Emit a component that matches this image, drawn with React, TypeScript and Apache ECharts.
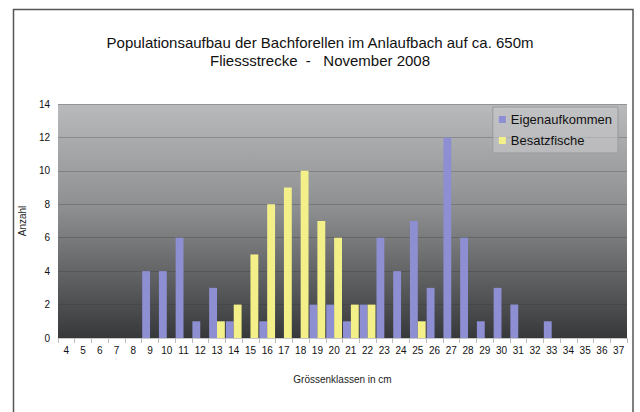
import React, { useEffect, useRef } from "react";
import * as echarts from "echarts";

const categories = ["4","5","6","7","8","9","10","11","12","13","14","15","16","17","18","19","20","21","22","23","24","25","26","27","28","29","30","31","32","33","34","35","36","37"];
const eigenaufkommen = [0,0,0,0,0,4,4,6,1,3,1,0,1,0,0,2,2,1,2,6,4,7,3,12,6,1,3,2,0,1,0,0,0,0];
const besatzfische = [0,0,0,0,0,0,0,0,0,1,2,5,8,9,10,7,6,2,2,0,0,1,0,0,0,0,0,0,0,0,0,0,0,0];
const titleLines = ["Populationsaufbau der Bachforellen im Anlaufbach auf ca. 650m", "Fliessstrecke  -   November 2008"];

export default function App() {
  const ref = useRef<HTMLDivElement>(null);
  useEffect(() => {
    if (!ref.current) return;
    const chart = echarts.init(ref.current, undefined, { renderer: "svg" });
    const font = "'Liberation Sans', Arial, sans-serif";
    chart.setOption({
      animation: false,
      backgroundColor: "#ffffff",
      textStyle: { fontFamily: font },
      title: {
        text: titleLines.join("\n"),
        left: "center",
        top: 28,
        textStyle: { fontSize: 15, fontWeight: "normal", color: "#111", lineHeight: 18, fontFamily: font },
      },
      graphic: [
        {
          type: "rect",
          shape: { x: 13.5, y: 9.5, width: 619.5, height: 430 },
          style: { fill: "none", stroke: "#555", lineWidth: 1.5 },
          z: 100,
        },
      ],
      legend: {
        orient: "vertical",
        right: 22,
        top: 107,
        itemWidth: 7,
        itemHeight: 7,
        itemGap: 8,
        padding: [6, 6, 6, 6],
        backgroundColor: "rgba(200,200,202,0.6)",
        borderColor: "#9a9a9a",
        borderWidth: 1,
        textStyle: { fontSize: 13, color: "#111", fontFamily: font },
        data: [
          { name: "Eigenaufkommen", icon: "rect" },
          { name: "Besatzfische", icon: "rect" },
        ],
      },
      grid: {
        left: 58,
        right: 13,
        top: 104,
        bottom: 74,
        show: true,
        borderWidth: 0,
        backgroundColor: new echarts.graphic.LinearGradient(0, 0, 0, 1, [
          { offset: 0, color: "#b9babc" },
          { offset: 0.45, color: "#8d8e90" },
          { offset: 1, color: "#37383a" },
        ]),
      },
      xAxis: {
        type: "category",
        data: categories,
        name: "Grössenklassen in cm",
        nameLocation: "middle",
        nameGap: 36,
        nameTextStyle: { fontSize: 10, color: "#222" },
        axisLine: { lineStyle: { color: "#c8c8c8" } },
        axisTick: { show: true, lineStyle: { color: "#bbb" } },
        axisLabel: { fontSize: 10, color: "#111", interval: 0, margin: 7 },
      },
      yAxis: {
        type: "value",
        min: 0,
        max: 14,
        interval: 2,
        name: "Anzahl",
        nameLocation: "middle",
        nameGap: 28,
        nameTextStyle: { fontSize: 10, color: "#222" },
        axisLine: { show: false },
        axisTick: { show: false },
        axisLabel: { fontSize: 10, color: "#111", margin: 8 },
        splitLine: { lineStyle: { color: "rgba(50,50,50,0.28)", width: 1 } },
      },
      series: [
        {
          name: "Eigenaufkommen",
          type: "bar",
          data: eigenaufkommen,
          itemStyle: { color: "#8e8ed2" },
          barGap: "0%",
          barCategoryGap: "6%",
        },
        {
          name: "Besatzfische",
          type: "bar",
          data: besatzfische,
          itemStyle: { color: "#f3f08a" },
          barGap: "0%",
          barCategoryGap: "6%",
        },
      ],
    });
    return () => chart.dispose();
  }, []);
  return <div ref={ref} style={{ position: "fixed", left: 0, top: 0, width: 640, height: 412 }} />;
}
